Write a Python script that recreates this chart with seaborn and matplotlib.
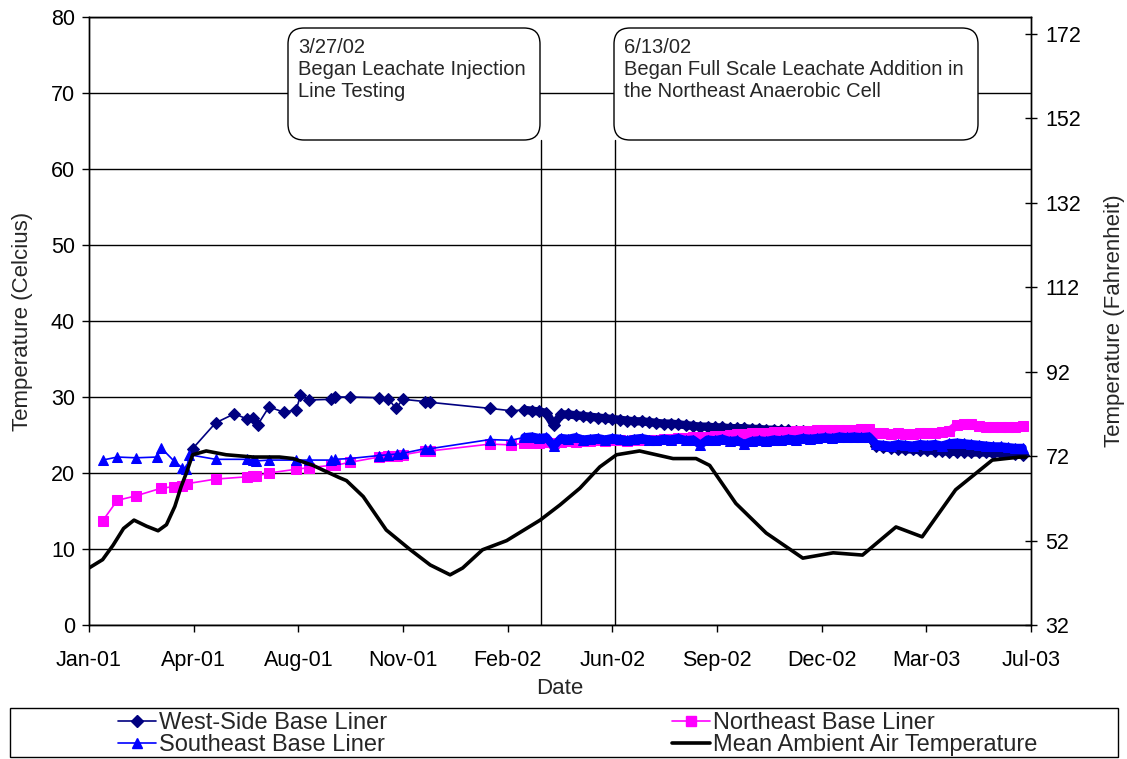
import pandas as pd
import seaborn as sns
import matplotlib.pyplot as plt
import matplotlib.dates as mdates
from matplotlib.lines import Line2D
from matplotlib.patches import FancyBboxPatch, Rectangle
from matplotlib.transforms import IdentityTransform

sns.set_style("ticks")
plt.rcParams["font.family"] = ["Liberation Sans", "DejaVu Sans"]

# ---- data ----
# sparse readings, 2001 - early 2002
west_dates = ["2001-04-28", "2001-05-20", "2001-06-07", "2001-06-19", "2001-06-25",
              "2001-06-29", "2001-07-10", "2001-07-24", "2001-08-05", "2001-08-09",
              "2001-08-17", "2001-09-07", "2001-09-11", "2001-09-25", "2001-10-23",
              "2001-11-01", "2001-11-08", "2001-11-15", "2001-12-06", "2001-12-11",
              "2002-02-06", "2002-02-26"]
west_temps = [23.2, 26.6, 27.8, 27.1, 27.3, 26.3, 28.7, 28.0, 28.3, 30.2,
              29.6, 29.7, 30.0, 30.0, 29.9, 29.8, 28.5, 29.7, 29.4, 29.3,
              28.5, 28.2]

ne_dates = ["2001-02-01", "2001-02-15", "2001-03-05", "2001-03-29", "2001-04-10",
            "2001-04-18", "2001-04-23", "2001-05-20", "2001-06-19", "2001-06-25",
            "2001-06-28", "2001-07-10", "2001-08-05", "2001-08-17", "2001-09-07",
            "2001-09-11", "2001-09-25", "2001-10-23", "2001-11-01", "2001-11-09",
            "2001-11-15", "2001-12-06", "2001-12-11", "2002-02-06", "2002-02-26"]
ne_temps = [13.7, 16.4, 17.0, 18.0, 18.2, 18.3, 18.6, 19.2, 19.5, 19.6,
            19.6, 20.0, 20.5, 20.7, 21.0, 21.0, 21.4, 22.1, 22.2, 22.3,
            22.4, 22.9, 22.9, 23.8, 23.7]

se_dates = ["2001-02-01", "2001-02-15", "2001-03-05", "2001-03-25", "2001-03-29",
            "2001-04-10", "2001-04-18", "2001-04-22", "2001-04-25", "2001-05-20",
            "2001-06-19", "2001-06-25", "2001-06-28", "2001-07-10", "2001-08-05",
            "2001-08-17", "2001-09-07", "2001-09-11", "2001-09-25", "2001-10-23",
            "2001-11-01", "2001-11-09", "2001-11-15", "2001-12-06", "2001-12-11",
            "2002-02-06", "2002-02-26"]
se_temps = [21.7, 22.1, 22.0, 22.1, 23.3, 21.6, 20.7, 20.5, 22.4, 21.8,
            21.8, 21.7, 21.6, 21.7, 21.7, 21.7, 21.7, 21.8, 21.9, 22.3,
            22.4, 22.5, 22.6, 23.2, 23.2, 24.4, 24.3]

# continuous logging from March 2002 (weekly samples)
dense_dates = pd.date_range("2002-03-11", "2003-06-30", freq="7D")
west_dense = [28.3, 28.2, 28.1, 27.9, 26.3, 27.7, 27.7, 27.6, 27.5, 27.4,
              27.3, 27.2, 27.1, 27.0, 26.9, 26.8, 26.8, 26.7, 26.6, 26.5,
              26.5, 26.4, 26.3, 26.2, 26.1, 26.1, 26.0, 26.0, 25.9, 25.9,
              25.9, 25.8, 25.8, 25.7, 25.7, 25.6, 25.6, 25.5, 25.5, 25.4,
              25.4, 25.3, 25.3, 25.2, 25.2, 25.1, 25.1, 25.0, 23.5, 23.4,
              23.3, 23.2, 23.1, 23.1, 23.0, 23.0, 22.9, 22.9, 22.8, 22.8,
              22.8, 22.7, 22.7, 22.7, 22.6, 22.6, 22.6, 22.5, 22.4]
ne_dense = [23.9, 24.0, 24.0, 24.1, 24.0, 24.1, 24.2, 24.1, 24.2, 24.2,
            24.3, 24.2, 24.3, 24.3, 24.2, 24.3, 24.4, 24.3, 24.4, 24.5,
            24.5, 24.6, 24.6, 24.7, 24.7, 24.8, 24.9, 24.9, 25.0, 25.1,
            25.1, 25.2, 25.3, 25.3, 25.4, 25.4, 25.4, 25.5, 25.5, 25.5,
            25.6, 25.6, 25.6, 25.7, 25.7, 25.7, 25.8, 25.8, 25.2, 25.2,
            25.1, 25.2, 25.1, 25.1, 25.2, 25.2, 25.3, 25.4, 25.5, 26.3,
            26.4, 26.4, 26.2, 26.1, 26.1, 26.0, 26.1, 26.1, 26.2]
se_dense = [24.7, 24.8, 24.6, 24.7, 23.5, 24.6, 24.5, 24.7, 24.4, 24.5,
            24.6, 24.4, 24.6, 24.5, 24.3, 24.5, 24.6, 24.4, 24.3, 24.5,
            24.4, 24.6, 24.3, 24.4, 23.7, 24.4, 24.3, 24.5, 24.2, 24.3,
            23.8, 24.2, 24.3, 24.2, 24.4, 24.3, 24.5, 24.4, 24.6, 24.5,
            24.6, 24.7, 24.6, 24.8, 24.7, 24.8, 24.7, 24.8, 23.8, 23.7,
            23.6, 23.8, 23.7, 23.6, 23.8, 23.7, 23.8, 23.6, 23.9, 24.0,
            23.9, 23.8, 23.7, 23.6, 23.5, 23.5, 23.4, 23.3, 23.3]

air_dates = ["2001-01-19", "2001-02-01", "2001-02-11", "2001-02-21", "2001-03-03",
             "2001-03-15", "2001-03-26", "2001-04-03", "2001-04-11", "2001-04-17",
             "2001-04-22", "2001-04-28", "2001-05-11", "2001-05-30", "2001-06-25",
             "2001-07-20", "2001-08-02", "2001-08-21", "2001-09-15", "2001-09-22",
             "2001-10-08", "2001-10-30", "2001-11-22", "2001-12-11", "2001-12-30",
             "2002-01-11", "2002-01-30", "2002-02-22", "2002-03-26", "2002-04-14",
             "2002-05-03", "2002-05-22", "2002-06-07", "2002-06-29", "2002-07-31",
             "2002-08-22", "2002-09-04", "2002-09-29", "2002-10-28", "2002-12-02",
             "2002-12-31", "2003-01-28", "2003-03-01", "2003-03-26", "2003-04-27",
             "2003-06-01", "2003-06-27", "2003-07-03"]
air_temps = [7.5, 8.6, 10.5, 12.7, 13.8, 13.0, 12.4, 13.2, 15.6, 18.2,
             20.0, 22.4, 22.9, 22.4, 22.1, 22.1, 21.9, 21.0, 19.4, 19.0,
             16.9, 12.5, 9.9, 7.9, 6.6, 7.5, 9.9, 11.1, 13.8, 15.8,
             18.0, 20.8, 22.4, 22.9, 21.9, 21.9, 21.0, 16.0, 12.1, 8.8,
             9.5, 9.2, 12.9, 11.6, 17.8, 21.7, 22.1, 22.1]

events = ["2002-03-27", "2002-06-06"]
event_notes = ["3/27/02\nBegan Leachate Injection\nLine Testing",
               "6/13/02\nBegan Full Scale Leachate Addition in\nthe Northeast Anaerobic Cell"]


def frame(dates, temps, dense=None, dense_t=None):
    d = list(pd.to_datetime(dates))
    t = list(temps)
    if dense is not None:
        d += list(dense)
        t += list(dense_t)
    return pd.DataFrame({"date": d, "temp": t})


W, H = 1127, 759
fig = plt.figure(figsize=(W / 100, H / 100), dpi=100)
L, R, T, B = 89, 1031, 17, 625
ax = fig.add_axes([L / W, 1 - B / H, (R - L) / W, (B - T) / H])

navy, mag, blue = "#000080", "#FF00FF", "#0000FF"
series = [
    (west_dates, west_temps, west_dense, navy, "D", 6),
    (ne_dates, ne_temps, ne_dense, mag, "s", 6.5),
    (se_dates, se_temps, se_dense, blue, "^", 7.5),
]
for dates, temps, dense_t, col, mk, ms in series:
    df = frame(dates, temps, dense_dates, dense_t)
    sns.lineplot(data=df, x="date", y="temp", ax=ax, color=col, marker=mk, markersize=ms,
                 markeredgecolor=col, linewidth=1.2, estimator=None, sort=False,
                 legend=False)
    # daily logger readings overlap into a solid band
    dd = frame([], [], dense_dates, dense_t)
    sns.lineplot(data=dd, x="date", y="temp", ax=ax, color=col, linewidth=6,
                 estimator=None, sort=False, legend=False)

air = frame(air_dates, air_temps)
sns.lineplot(data=air, x="date", y="temp", ax=ax, color="black", linewidth=2.6,
             estimator=None, sort=False, legend=False)

start = pd.Timestamp("2001-01-19")
ticks = [start + pd.Timedelta(days=100 * k) for k in range(10)]
ax.set_xlim(ticks[0], ticks[-1])
ax.set_xticks(ticks)
ax.xaxis.set_major_formatter(mdates.DateFormatter("%b-%y"))
ax.set_ylim(0, 80)
ax.set_yticks(range(0, 81, 10))
ax.yaxis.grid(True, color="black", linewidth=1)
ax.set_axisbelow(True)
ax.tick_params(axis="both", direction="out", length=5, width=1, colors="black",
               labelsize=15.5, pad=5)
ax.tick_params(axis="x", pad=13)
ax.set_xlabel("Date", fontsize=16, labelpad=5)
ax.set_ylabel("Temperature (Celcius)", fontsize=16, labelpad=13)
for s in ax.spines.values():
    s.set_visible(True)
    s.set_color("black")
    s.set_linewidth(1)

ax2 = ax.twinx()
ax2.set_ylim(32, 176)
ax2.set_yticks(range(32, 173, 20))
ax2.tick_params(axis="y", direction="inout", length=9, width=1, colors="black",
                labelsize=15.5, pad=6)
ax2.set_ylabel("Temperature (Fahrenheit)", fontsize=16, labelpad=16)
for s in ax2.spines.values():
    s.set_color("black")
    s.set_linewidth(1)

# event markers and callout boxes
box_px = [(288, 540), (614, 978)]
box_top, box_bot = 28, 140
for ev, note, (x0, x1) in zip(events, event_notes, box_px):
    ax.axvline(pd.Timestamp(ev), ymin=0, ymax=(B - box_bot) / (B - T), color="black",
               linewidth=1, zorder=1)
    patch = FancyBboxPatch((x0, H - box_bot), x1 - x0, box_bot - box_top,
                           boxstyle="round,pad=0,rounding_size=16",
                           transform=IdentityTransform(), facecolor="white",
                           edgecolor="black", linewidth=1, clip_on=False, zorder=5)
    ax.add_artist(patch)
    ax.text(x0 + 10, H - box_top - 10, note, transform=IdentityTransform(),
            ha="left", va="top", fontsize=14.5, linespacing=1.2, zorder=6)

# legend below the chart
fig.add_artist(Rectangle((10 / W, 2 / H), 1108 / W, 49 / H, transform=fig.transFigure,
                         fill=False, edgecolor="black", linewidth=1))
h_w = Line2D([], [], color=navy, marker="D", markersize=6, linewidth=1.2)
h_n = Line2D([], [], color=mag, marker="s", markersize=6.5, linewidth=1.2)
h_s = Line2D([], [], color=blue, marker="^", markersize=7.5, linewidth=1.2)
h_a = Line2D([], [], color="black", linewidth=2.6)
for hs, labs, xpx in [([h_w, h_s], ["West-Side Base Liner", "Southeast Base Liner"], 118),
                      ([h_n, h_a], ["Northeast Base Liner", "Mean Ambient Air Temperature"], 672)]:
    fig.legend(handles=hs, labels=labs, loc="upper left",
               bbox_to_anchor=(xpx / W, (H - 712) / H), frameon=False, fontsize=17,
               handlelength=1.6, handletextpad=0.15, labelspacing=0.0, borderpad=0,
               borderaxespad=0)

fig.savefig("out.png", dpi=100)
